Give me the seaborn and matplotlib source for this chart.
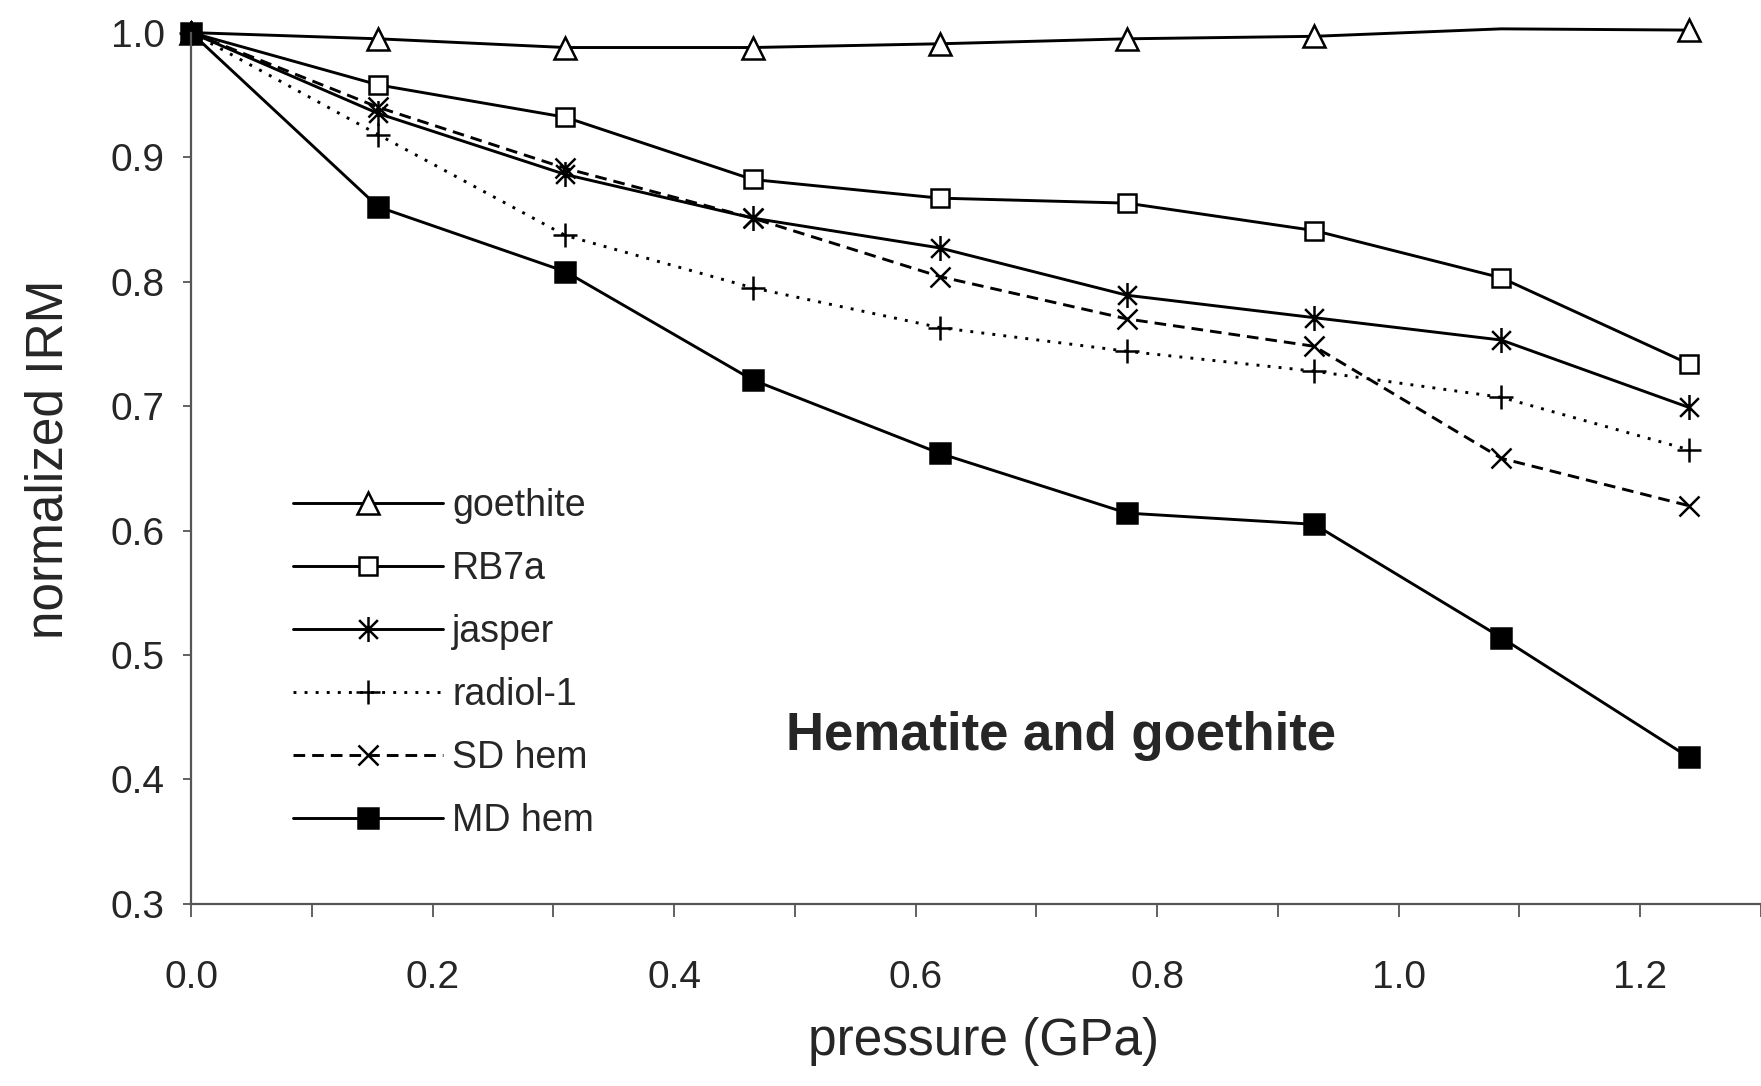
import numpy as np
import pandas as pd
import matplotlib
matplotlib.use("Agg")
import matplotlib.pyplot as plt
from matplotlib.lines import Line2D
from matplotlib.path import Path
from matplotlib.ticker import MultipleLocator, FormatStrFormatter
import seaborn as sns

# pressure steps (GPa)
pressure = [0.0, 0.155, 0.31, 0.465, 0.62, 0.775, 0.93, 1.085, 1.24]

# normalized IRM
goethite = [1.0, 0.995, 0.988, 0.988, 0.991, 0.995, 0.997, 1.003, 1.002]
rb7a = [1.0, 0.958, 0.932, 0.882, 0.867, 0.863, 0.841, 0.803, 0.734]
jasper = [1.0, 0.935, 0.886, 0.851, 0.827, 0.789, 0.771, 0.753, 0.699]
radiol = [1.0, 0.918, 0.837, 0.795, 0.763, 0.744, 0.728, 0.707, 0.665]
sd_hem = [1.0, 0.940, 0.891, 0.851, 0.804, 0.770, 0.748, 0.658, 0.620]
md_hem = [1.0, 0.860, 0.808, 0.721, 0.662, 0.614, 0.605, 0.514, 0.418]

names = ["goethite", "RB7a", "jasper", "radiol-1", "SD hem", "MD hem"]
values = [goethite, rb7a, jasper, radiol, sd_hem, md_hem]

# Excel-like asterisk: vertical bar plus an x
star = Path([(0, -1), (0, 1), (-0.75, -0.75), (0.75, 0.75), (-0.75, 0.75), (0.75, -0.75)],
            [Path.MOVETO, Path.LINETO] * 3)

styles = {
    "goethite": dict(marker="^", ms=15.5, mfc="white", ls="-"),
    "RB7a": dict(marker="s", ms=13.5, mfc="white", ls="-"),
    "jasper": dict(marker=star, ms=18, mfc="none", ls="-"),
    "radiol-1": dict(marker="+", ms=17, mfc="none", ls=(0, (1, 2.8))),
    "SD hem": dict(marker="x", ms=15, mfc="none", ls=(0, (4, 2.4))),
    "MD hem": dict(marker="s", ms=15, mfc="black", ls="-"),
}

sns.set_style("ticks")
plt.rcParams["font.family"] = ["Liberation Sans", "DejaVu Sans"]

fig = plt.figure(figsize=(17.61, 10.86), dpi=100)
ax = fig.add_axes([0.1085, 0.1676, 0.8915, 0.8024])

lw = 2.1
handles = []
for name, vals in zip(names, values):
    st = styles[name]
    df = pd.DataFrame({"pressure": pressure, "IRM": vals})
    # goethite has no symbol at the 1.085 GPa point
    every = [0, 1, 2, 3, 4, 5, 6, 8] if name == "goethite" else None
    sns.lineplot(data=df, x="pressure", y="IRM", ax=ax, color="black",
                 linestyle=st["ls"], linewidth=lw, marker=st["marker"],
                 markersize=st["ms"], markerfacecolor=st["mfc"],
                 markeredgecolor="black", markeredgewidth=1.8,
                 markevery=every, clip_on=False, errorbar=None)
    handles.append(Line2D([], [], color="black", linestyle=st["ls"], linewidth=lw,
                          marker=st["marker"], markersize=st["ms"],
                          markerfacecolor=st["mfc"], markeredgecolor="black",
                          markeredgewidth=1.8, label=name))

ax.set_xlim(0, 1.3)
ax.set_ylim(0.3, 1.0)
ax.xaxis.set_major_locator(MultipleLocator(0.2))
ax.xaxis.set_minor_locator(MultipleLocator(0.1))
ax.yaxis.set_major_locator(MultipleLocator(0.1))
ax.xaxis.set_major_formatter(FormatStrFormatter("%.1f"))
ax.yaxis.set_major_formatter(FormatStrFormatter("%.1f"))

sns.despine(ax=ax)
for side in ["left", "bottom"]:
    ax.spines[side].set_color("#555555")
    ax.spines[side].set_linewidth(1.6)

ax.tick_params(axis="x", which="both", direction="out", length=9, width=1.3,
               color="#555555", labelsize=28, pad=31)
ax.tick_params(axis="y", which="both", direction="out", length=6, width=1.3,
               color="#555555", labelsize=28, pad=13)

ax.set_xlabel("pressure (GPa)", fontsize=37)
ax.set_ylabel("normalized IRM", fontsize=37)
ax.xaxis.set_label_coords(0.505, -0.13)
ax.yaxis.set_label_coords(-0.075, 0.51)

ax.text(0.72, 0.435, "Hematite and goethite", fontsize=38, fontweight="bold",
        ha="center", va="center")

ax.legend(handles=handles, loc="upper left", bbox_to_anchor=(0.1556, 0.568),
          bbox_transform=fig.transFigure, frameon=False, fontsize=27,
          handlelength=4.0, handletextpad=0.25, labelspacing=0.72,
          borderpad=0, numpoints=1)

fig.savefig("out.png", dpi=100)
